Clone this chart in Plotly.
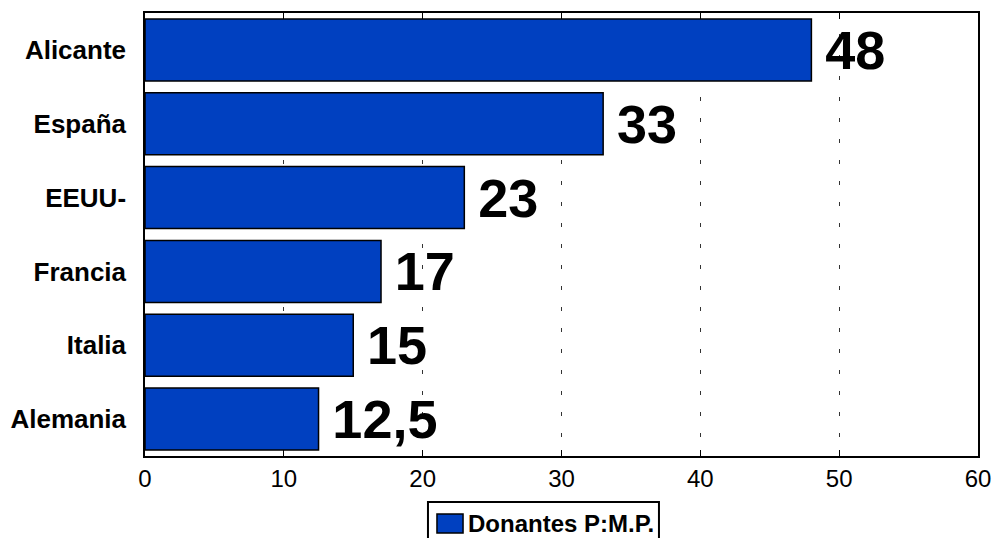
import plotly.graph_objects as go

# datos del grafico
regiones = ['Alicante', 'España', 'EEUU-', 'Francia', 'Italia', 'Alemania']
donantes = [48, 33, 23, 17, 15, 12.5]
serie = 'Donantes P:M.P.'

azul = '#0040C0'
etiquetas = ['\u2009' + f'{v:g}'.replace('.', ',') for v in donantes]

fig = go.Figure()
fig.add_trace(
    go.Bar(
        x=donantes,
        y=regiones,
        orientation='h',
        name=serie,
        text=etiquetas,
        textposition='outside',
        constraintext='none',
        cliponaxis=False,
        textfont=dict(family='Liberation Sans', size=54, color='black', weight='bold'),
        marker=dict(color=azul, line=dict(color='black', width=1.5)),
        showlegend=False,
    )
)

fig.update_layout(
    width=994,
    height=538,
    margin=dict(l=145, r=16, t=13, b=82),
    paper_bgcolor='white',
    plot_bgcolor='white',
    bargap=0.16,
    font=dict(family='Liberation Sans', color='black'),
    showlegend=False,
)

# leyenda hecha a mano (caja + muestra + texto)
fig.add_shape(type='rect', xref='paper', yref='paper',
              x0=0.3397, x1=0.6170, y0=-0.2009, y1=-0.1038,
              line=dict(color='black', width=2), fillcolor='white')
fig.add_shape(type='rect', xref='paper', yref='paper',
              x0=0.3505, x1=0.3818, y0=-0.1738, y1=-0.1309,
              line=dict(color='black', width=1.5), fillcolor=azul)
fig.add_annotation(text=serie, xref='paper', yref='paper',
                   x=0.3854, y=-0.1524, xanchor='left', yanchor='middle',
                   showarrow=False,
                   font=dict(size=24, weight='bold', color='black'))

fig.update_xaxes(
    range=[0, 60],
    dtick=10,
    ticks='inside',
    ticklen=6,
    tickcolor='black',
    tickfont=dict(size=24),
    showline=True, linecolor='black', linewidth=1.5, mirror='ticks',
    showgrid=True, gridcolor='#333333', griddash='4px,17px', gridwidth=1,
    zeroline=False,
    automargin=False,
)
fig.update_yaxes(
    autorange='reversed',
    tickfont=dict(size=26, weight='bold'),
    showline=True, linecolor='black', linewidth=1.5, mirror=True,
    ticks='',
    ticklabelstandoff=12,
    automargin=False,
)

fig.write_html(
    'out.html',
    config={'displayModeBar': False},
    post_script="document.body.style.margin='0';document.body.style.overflow='hidden';",
)
